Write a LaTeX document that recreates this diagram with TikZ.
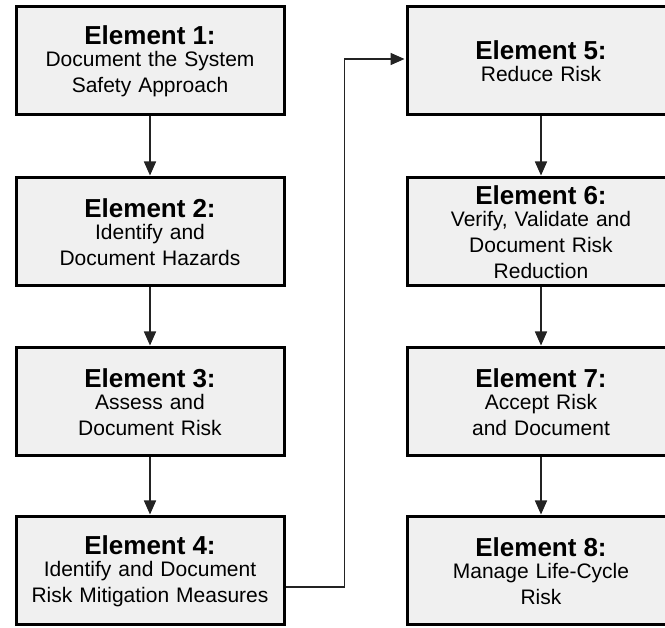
\documentclass[tikz,border=0pt]{standalone}
\usepackage{fontspec}
\setmainfont{Liberation Sans}
\usetikzlibrary{arrows.meta}

\definecolor{boxgray}{RGB}{240,240,240}
\definecolor{flowgray}{RGB}{35,35,35}

\tikzset{
  element/.style={draw=black, line width=3pt, fill=boxgray,
    minimum width=268pt, minimum height=108pt, text width=262pt,
    inner sep=0pt, align=center, font=\fontsize{21}{26}\selectfont},
  flow/.style={draw=flowgray, line width=1.6pt, shorten >=1pt,
    -{Triangle[length=14pt,width=12pt]}}
}
\newcommand{\elhead}[1]{{\fontsize{26}{26}\selectfont\bfseries #1}\\[-4pt]}

\begin{document}
\begin{tikzpicture}[x=1pt,y=-1pt]
    \path[use as bounding box, clip] (0,0) rectangle (665,628);
    \fill[white] (0,0) rectangle (665,628);

    % left column
    \node[element] (e1) at (150,61)  {\elhead{Element 1:}Document the System\\Safety Approach};
    \node[element] (e2) at (150,232) {\elhead{Element 2:}Identify and\\Document Hazards};
    \node[element] (e3) at (150,402) {\elhead{Element 3:}Assess and\\Document Risk};
    \node[element] (e4) at (150,571) {\elhead{Element 4:}Identify and Document\\Risk Mitigation Measures};

    % right column
    \node[element] (e5) at (541,61)  {\elhead{Element 5:}Reduce Risk};
    \node[element] (e6) at (541,232) {\elhead{Element 6:}Verify, Validate and\\Document Risk\\Reduction};
    \node[element] (e7) at (541,402) {\elhead{Element 7:}Accept Risk\\and Document};
    \node[element] (e8) at (541,571) {\elhead{Element 8:}Manage Life-Cycle\\Risk};

    \foreach \a/\b in {e1/e2,e2/e3,e3/e4,e5/e6,e6/e7,e7/e8} { \draw[flow] (\a) -- (\b); }
    \draw[flow] ([yshift=-16pt]e4.east) -- ++(59,0) |- ([yshift=2pt]e5.west);
\end{tikzpicture}
\end{document}
